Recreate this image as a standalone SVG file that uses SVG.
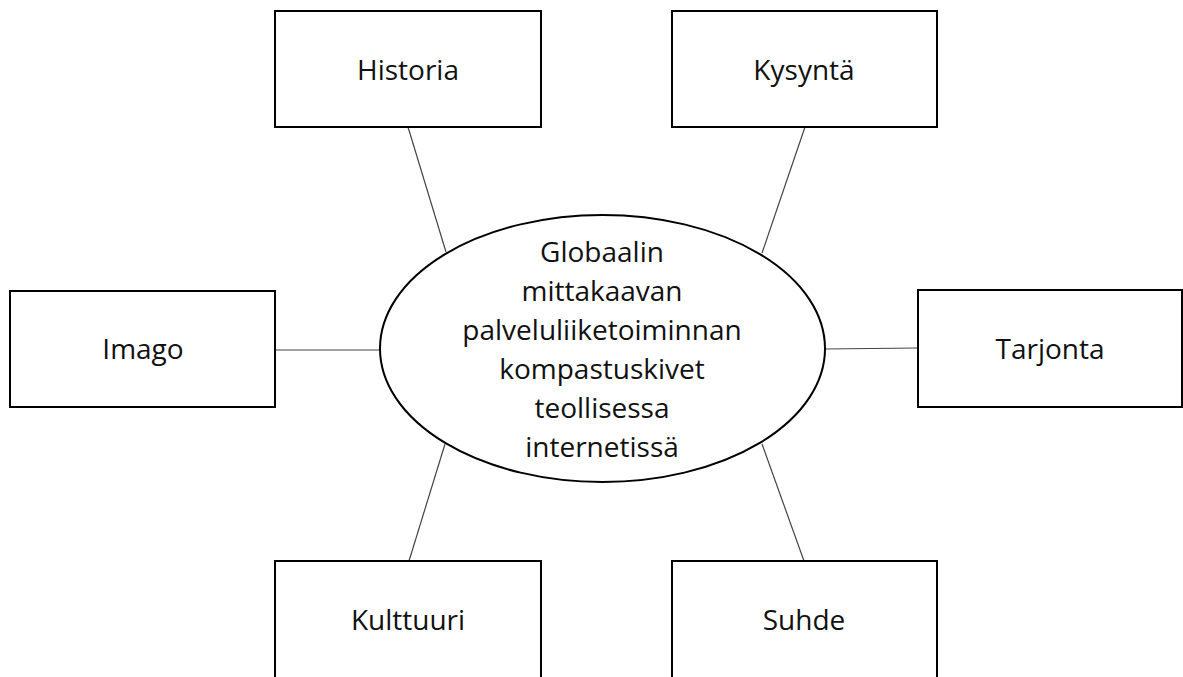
<svg xmlns="http://www.w3.org/2000/svg" width="1183" height="677" viewBox="0 0 1183 677">
<style>
.box{fill:#fff;stroke:#000;stroke-width:2}
.ell{fill:#fff;stroke:#000;stroke-width:2}
.lbl{font-family:"Open Sans","Liberation Sans",sans-serif;font-size:28px;fill:#111;text-anchor:middle}
.con line{stroke:#444;stroke-width:1.2}
</style>
<rect width="1183" height="677" fill="#fff"/>
<g class="con" id="connectors">
<line x1="408" y1="127" x2="446" y2="252"/>
<line x1="805" y1="127" x2="762" y2="253"/>
<line x1="275" y1="350" x2="380" y2="350"/>
<line x1="824" y1="349" x2="918" y2="348"/>
<line x1="445" y1="444" x2="409" y2="561"/>
<line x1="762" y1="444" x2="804" y2="561"/>
</g>
<g id="center">
<ellipse class="ell" cx="602.5" cy="348.5" rx="222.5" ry="133.5"/>
<text class="lbl" x="602" y="262">Globaalin</text>
<text class="lbl" x="602" y="301">mittakaavan</text>
<text class="lbl" x="602" y="340">palveluliiketoiminnan</text>
<text class="lbl" x="602" y="379">kompastuskivet</text>
<text class="lbl" x="602" y="418">teollisessa</text>
<text class="lbl" x="602" y="457">internetissä</text>
</g>
<g id="historia"><rect class="box" x="275" y="11" width="266" height="116"/><text class="lbl" x="408" y="80">Historia</text></g>
<g id="kysynta"><rect class="box" x="672" y="11" width="265" height="116"/><text class="lbl" x="804" y="80">Kysyntä</text></g>
<g id="imago"><rect class="box" x="10" y="291" width="265" height="116"/><text class="lbl" x="143" y="359">Imago</text></g>
<g id="tarjonta"><rect class="box" x="918" y="290" width="264" height="117"/><text class="lbl" x="1050" y="359">Tarjonta</text></g>
<g id="kulttuuri"><rect class="box" x="275" y="561" width="266" height="130"/><text class="lbl" x="408" y="630">Kulttuuri</text></g>
<g id="suhde"><rect class="box" x="672" y="561" width="265" height="130"/><text class="lbl" x="804" y="630">Suhde</text></g>
</svg>
